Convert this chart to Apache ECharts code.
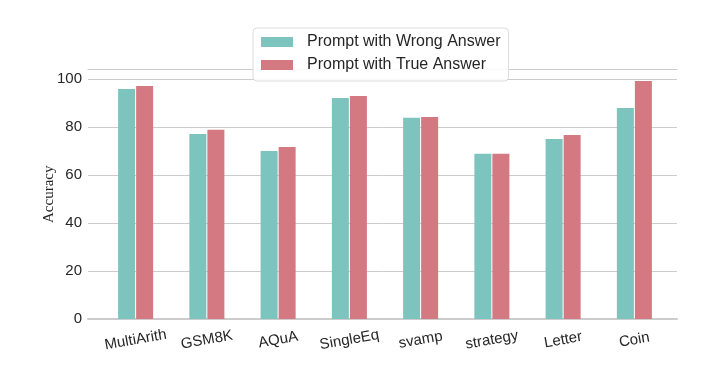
<!DOCTYPE html>
<html><head><meta charset="utf-8">
<script src="https://cdn.jsdelivr.net/npm/echarts@6/dist/echarts.min.js"></script>
<style>html,body{margin:0;padding:0;background:#fff}#c{width:702px;height:372px}</style>
</head><body><div id="c"></div>
<script>
const categories = ['MultiArith','GSM8K','AQuA','SingleEq','svamp','strategy','Letter','Coin'];
const wrongAnswer = [95.8, 77.1, 70.0, 92.1, 83.8, 68.8, 75.0, 87.9];
const trueAnswer  = [97.1, 78.8, 71.7, 92.9, 84.2, 68.8, 76.7, 99.2];
const yTicks = [0, 20, 40, 60, 80, 100];
const seriesNames = ['Prompt with Wrong Answer', 'Prompt with True Answer'];

const chart = echarts.init(document.getElementById('c'), null, {renderer: 'canvas'});
const font = 'Liberation Sans, Arial, sans-serif';
const gTop = 69.5, gBottom = 53;
chart.setOption({
  animation: false,
  backgroundColor: '#fff',
  legend: {
    orient: 'vertical', left: 253, top: 28,
    data: seriesNames,
    itemWidth: 32, itemHeight: 10, itemGap: 7,
    padding: [6, 8, 8, 8],
    backgroundColor: 'rgba(255,255,255,0.9)',
    borderColor: '#dcdcdc', borderWidth: 1, borderRadius: 4,
    textStyle: {fontFamily: font, fontSize: 16, color: '#262626', padding: [0, 0, 0, 9]},
    icon: 'rect'
  },
  grid: [
    {left: 88, right: 25, top: gTop, bottom: gBottom},
    {left: 100, right: 32, top: gTop, bottom: gBottom}
  ],
  xAxis: [
    {gridIndex: 0, type: 'value', min: 0, max: 1, position: 'bottom',
     axisLine: {show: true, lineStyle: {color: '#cccccc', width: 2}},
     axisTick: {show: false}, axisLabel: {show: false}, splitLine: {show: false}},
    {gridIndex: 0, type: 'value', min: 0, max: 1, position: 'top',
     axisLine: {show: true, lineStyle: {color: '#cccccc', width: 1}},
     axisTick: {show: false}, axisLabel: {show: false}, splitLine: {show: false}},
    {gridIndex: 1, type: 'category', data: categories,
     axisLine: {show: false}, axisTick: {show: false},
     axisLabel: {fontFamily: font, fontSize: 15, color: '#262626', rotate: 10, margin: 21,
                 align: 'center', verticalAlign: 'middle', interval: 0}}
  ],
  yAxis: [
    {gridIndex: 0, type: 'value', min: 0, max: 103.95, interval: 20,
     name: 'Accuracy', nameLocation: 'middle', nameGap: 31, nameMoveOverlap: false,
     nameTextStyle: {fontFamily: 'Liberation Serif, Times New Roman, serif', fontSize: 15, color: '#262626'},
     axisLine: {show: false}, axisTick: {show: false},
     axisLabel: {fontFamily: font, fontSize: 15, color: '#262626', margin: 6,
                 formatter: v => yTicks.includes(v) ? String(v) : ''},
     splitLine: {show: true, lineStyle: {color: '#cccccc', width: 1}}},
    {gridIndex: 1, type: 'value', min: 0, max: 103.95,
     axisLine: {show: false}, axisTick: {show: false}, axisLabel: {show: false}, splitLine: {show: false}}
  ],
  series: [
    {name: seriesNames[0], type: 'bar', xAxisIndex: 2, yAxisIndex: 1, data: wrongAnswer,
     barWidth: 17, barGap: '6%', itemStyle: {color: '#7dc4bf'}},
    {name: seriesNames[1], type: 'bar', xAxisIndex: 2, yAxisIndex: 1, data: trueAnswer,
     barWidth: 17, barGap: '6%', itemStyle: {color: '#d47982'}}
  ]
});
</script></body></html>
